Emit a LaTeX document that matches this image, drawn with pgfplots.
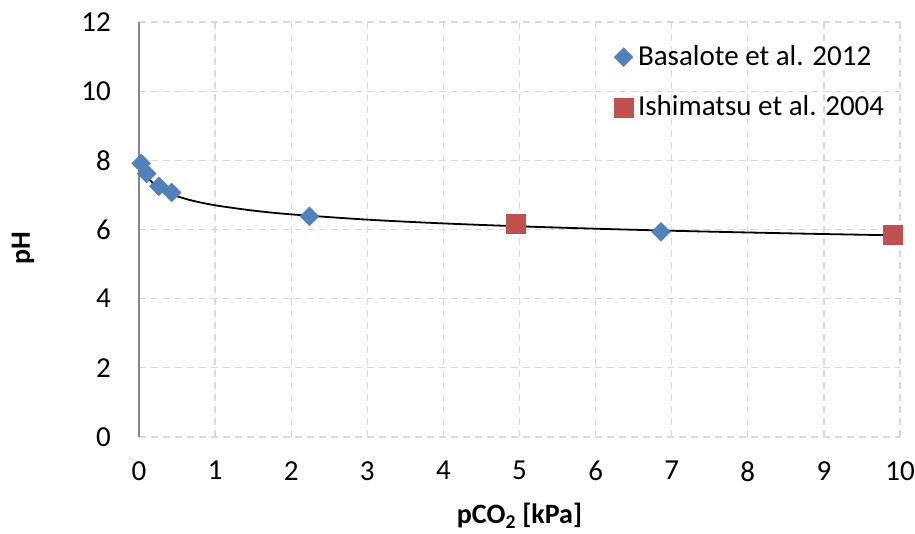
\documentclass[border=0pt]{standalone}
\usepackage{fontspec}
\setmainfont{Carlito}
\usepackage{pgfplots}
\pgfplotsset{compat=1.18}
\definecolor{bblue}{HTML}{4F81BD}
\definecolor{bred}{HTML}{C0504D}
\definecolor{gridc}{HTML}{D9D9D9}
\definecolor{axc}{HTML}{868686}
\begin{document}
\fontsize{29}{35}\selectfont
\begin{tikzpicture}
\path[use as bounding box] (-139pt,-96pt) rectangle (776pt,437pt);
\begin{axis}[
 at={(0pt,0pt)}, anchor=south west,
 scale only axis, width=761pt, height=415pt,
 xmin=0,xmax=10,ymin=0,ymax=12,
 xtick={0,1,...,10}, ytick={0,2,...,12},
 axis x line*=bottom, axis y line*=left,
 x axis line style={draw=none},
 y axis line style={draw=axc, line width=1.3pt, -},
 major tick length=0pt,
 grid=major,
 major grid style={draw=gridc, line width=1.3pt, dash pattern=on 7pt off 5pt},
 tick label style={font=\fontsize{29}{35}\selectfont},
 /pgf/number format/assume math mode=true,
 xticklabel style={anchor=north, inner sep=0pt, yshift=-24pt},
 yticklabel style={anchor=east, inner sep=0pt, xshift=-28pt},
 label style={font=\fontsize{28}{34}\selectfont\bfseries},
 xlabel={pCO\textsubscript{2} [kPa]},
 ylabel={pH},
 xlabel style={at={(axis description cs:0.5,-0.19)}, anchor=center},
 ylabel style={at={(axis description cs:-0.1524,0.455)}, anchor=center},
 clip=false,
 legend cell align=left,
 legend style={draw=none, fill=none, at={(axis cs:6.24,11.4)}, anchor=north west,
   row sep=22pt, font=\fontsize{29}{35}\selectfont, inner sep=0pt,
   /tikz/every odd column/.append style={column sep=3pt}},
 legend image code/.code={\draw[#1] plot coordinates {(0pt,0pt)};},
]
\addplot[black, line width=1.8pt, smooth, no marks, forget plot] coordinates {
(0.035,7.967) (0.05,7.832) (0.07,7.705) (0.1,7.570) (0.15,7.417) (0.2,7.308)
(0.3,7.155) (0.4,7.046) (0.5,6.962) (0.7,6.835) (1,6.700) (1.5,6.547) (2,6.438)
(3,6.285) (4,6.176) (5,6.092) (6,6.023) (7,5.964) (8,5.914) (9,5.869) (10,5.829)};
\addplot[only marks, mark=square*, mark size=6.7pt, mark options={rotate=45, draw=bblue, fill=bblue}] coordinates {
(0.03,7.91) (0.10,7.62) (0.26,7.25) (0.43,7.07) (2.24,6.38) (6.86,5.93)};
\addlegendentry{Basalote et al. 2012}
\addplot[only marks, mark=square*, mark size=9.5pt, mark options={draw=bred, fill=bred}] coordinates {
(4.95,6.18) (9.90,5.86)};
\addlegendentry{Ishimatsu et al. 2004}
\end{axis}
\end{tikzpicture}
\end{document}
